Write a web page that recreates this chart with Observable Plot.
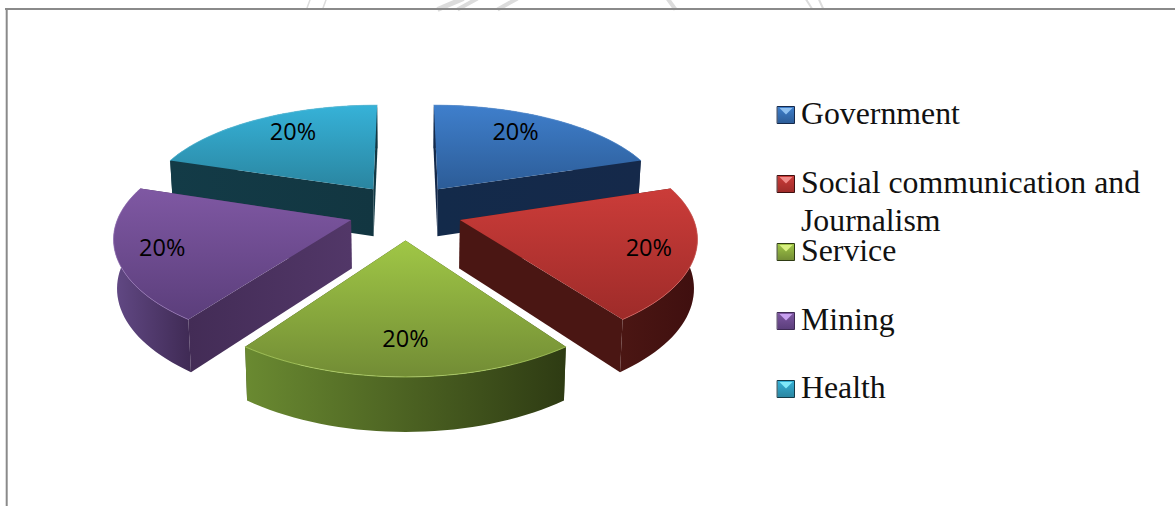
<!DOCTYPE html>
<html>
<head>
<meta charset="utf-8">
<script src="https://cdn.jsdelivr.net/npm/d3@7"></script>
<script src="https://cdn.jsdelivr.net/npm/@observablehq/plot@0.6"></script>
<style>html,body{margin:0;padding:0;background:#fff}svg{display:block}</style>
</head>
<body>
<div id="chart"></div>
<script>
// Data
const categories = ["Government", "Social communication and\nJournalism", "Service", "Mining", "Health"];
const values = [20, 20, 20, 20, 20];

// Styles
const topColors = [["#3f7fcc", "#2c5c97"], ["#cb3c39", "#9e2b29"], ["#a0c746", "#728c35"], ["#7f58a3", "#5b3e7b"], ["#36b2d8", "#2a85a0"]];
const sideColors = [["#15294a", "#15294a"], ["#4b1613", "#3f0f0f"], ["#6a8a31", "#2e3b13"], ["#624985", "#3f2a54"], ["#143a47", "#143a47"]];
const radialColors = [["#132a4a", "#15294a"], ["#4a1613", "#4a1613"], ["#3a4a1a", "#3a4a1a"], ["#432c56", "#523768"], ["#133b47", "#123641"]];
const edgeColors = ["#5c95d8", "#d96561", "#b6d968", "#9878b8", "#62c6e2"];
const markerLight = ["#8fc0f0", "#f08a88", "#d8f080", "#c8a0f0", "#80e8f8"];
const legendLineOffsets = [0, 69, 137, 206, 274];

// Projection constants: an exploded pie seen in perspective
const pie = {cx: 405, cy: 210.7, ax: 231, ay: 104, px: 0.142, py: 0.16, explodeX: 0.245, explodeY: 0.27, depth: 48};
function project(X, Y, bottom) {
  const wy = 1 + pie.py * Y;
  const wx = 1 + pie.px * Y;
  const drop = bottom ? pie.depth / Math.pow(wy, 0.6) : 0;
  const shrink = bottom ? 0.988 : 1;
  return {x: pie.cx + shrink * pie.ax * X / wx, y: pie.cy - pie.ay * Y / wy + drop, Y};
}
const rad = (d) => d * Math.PI / 180;
const total = d3.sum(values);
let running = 0;
const slices = values.map((v, i) => {
  const a0 = running / total * 360;
  running += v;
  const a1 = running / total * 360;
  const mid = (a0 + a1) / 2;
  const ox = pie.explodeX * Math.sin(rad(mid));
  const oy = pie.explodeY * Math.cos(rad(mid));
  const at = (a, r) => [ox + r * Math.sin(rad(a)), oy + r * Math.cos(rad(a))];
  const arc = d3.range(a0, a1 + 0.001, 2).map((a) => at(a, 1));
  const apex = [ox, oy];
  return {i, a0, a1, mid, ox, oy, at, arc, apex};
});
const face = (top, bottom) => [
  ...top.map(([X, Y]) => project(X, Y, false)),
  ...bottom.slice().reverse().map(([X, Y]) => project(X, Y, true))
];

const marks = [];
const gradient = (id, stops, vertical) => `<linearGradient id="${id}" x1="0" y1="0" x2="${vertical ? 0 : 1}" y2="${vertical ? 1 : 0}"><stop offset="0" stop-color="${stops[0]}"/><stop offset="1" stop-color="${stops[1]}"/></linearGradient>`;
const defsHtml = slices.map(({i}) =>
  gradient(`top${i}`, topColors[i], true) + gradient(`side${i}`, sideColors[i], false) + gradient(`rad${i}`, radialColors[i], false)
).join("") + `<filter id="soft" x="-10%" y="-10%" width="120%" height="120%"><feGaussianBlur stdDeviation="1.5"/></filter>`
  + `<filter id="faint" filterUnits="userSpaceOnUse" x="0" y="-10" width="1175" height="40"><feGaussianBlur stdDeviation="1"/></filter>`;

const polygon = (pts, fill, extra = {}) => Plot.line(pts, {x: "x", y: "y", curve: "linear-closed", fill, stroke: "none", ...extra});

// Faint scan watermark showing above the frame
const watermarkFrom = [310, 326, 463, 477, 517, 667, 805, 818];
const watermarkTo = [306, 322, 437, 457, 497, 675, 812, 823];
const watermarkWeight = [1.5, 1.5, 5, 4, 4, 4, 2, 2];
marks.push(Plot.link(d3.range(watermarkFrom.length), {
  x1: (i) => watermarkFrom[i], x2: (i) => watermarkTo[i], y1: () => -2, y2: () => 9,
  stroke: "#dcdcdc", strokeWidth: (i) => watermarkWeight[i], ariaLabel: "watermark"
}));

// Frame
marks.push(Plot.ruleY([8.4], {stroke: "#8a8a8a", strokeWidth: 2, x1: 5, x2: 1175}));
marks.push(Plot.ruleX([6.2], {stroke: "#8a8a8a", strokeWidth: 2, y1: 8, y2: 506}));

// Paint far to near
const order = [0, 4, 1, 3, 2];
for (const i of order) {
  const s = slices[i];
  const r0 = [s.apex, s.arc[0]];
  const r1 = [s.apex, s.arc[s.arc.length - 1]];
  const outerPts = face(s.arc, s.arc);
  const rad0 = face(r0, r0);
  const rad1 = face(r1, r1);
  const faces = [
    {pts: outerPts, fill: `url(#side${i})`},
    {pts: rad0, fill: `url(#rad${i})`},
    {pts: rad1, fill: `url(#rad${i})`}
  ].map((f) => ({...f, depth: d3.mean(f.pts, (d) => d.Y)})).sort((a, b) => b.depth - a.depth);

  // soft shadow under the wedge
  const shade = (pts) => polygon(pts.map((d) => ({x: d.x - (d.x > 405 ? -2 : 2), y: d.y + 2.5})), "#555", {ariaLabel: "shadow", fillOpacity: 0.8});
  marks.push(shade(outerPts), shade(rad0), shade(rad1));

  for (const f of faces) marks.push(polygon(f.pts, f.fill));
  const topPts = [s.apex, ...s.arc].map(([X, Y]) => project(X, Y, false));
  marks.push(polygon(topPts, `url(#top${i})`));
  marks.push(Plot.line(s.arc.map(([X, Y]) => project(X, Y, false)), {x: "x", y: "y", stroke: edgeColors[i], strokeWidth: 1, strokeOpacity: 0.7}));
}

// Percentage labels
const labelAngle = [31, 108, 180, 252, 328];
const labelRadius = [0.76, 0.81, 0.76, 0.81, 0.76];
const labels = slices.map((s) => {
  const [X, Y] = s.at(labelAngle[s.i], labelRadius[s.i]);
  return {...project(X, Y, false), text: `${values[s.i]}%`};
});
marks.push(Plot.text(labels, {x: "x", y: "y", dy: 0.5, text: "text", fill: "#000", fontFamily: "Open Sans", fontSize: 23.5, textAnchor: "middle", lineAnchor: "middle"}));

// Legend
const legendX = 777, legendSize = 17, legendY = 106;
const legend = categories.map((c, i) => ({c, i, y: legendY + legendLineOffsets[i]}));
for (const d of legend) {
  const sq = [{x: legendX, y: d.y}, {x: legendX + legendSize, y: d.y}, {x: legendX + legendSize, y: d.y + legendSize}, {x: legendX, y: d.y + legendSize}];
  marks.push(polygon(sq, `url(#top${d.i})`, {stroke: sideColors[d.i][1], strokeWidth: 1}));
  const tri = [{x: legendX + 2, y: d.y + 1.5}, {x: legendX + legendSize - 2, y: d.y + 1.5}, {x: legendX + legendSize / 2, y: d.y + 8}];
  marks.push(polygon(tri, markerLight[d.i]));
}
marks.push(Plot.text(legend, {
  x: legendX + 23.5, y: (d) => d.y - 9.4, text: "c",
  fill: "#111", fontFamily: "Liberation Serif", fontSize: 31.8,
  textAnchor: "start", lineAnchor: "top", lineHeight: 1.2
}));

const chart = Plot.plot({
  width: 1175, height: 506,
  marginTop: 0, marginRight: 0, marginBottom: 0, marginLeft: 0,
  x: {domain: [0, 1175], range: [0, 1175], axis: null},
  y: {domain: [0, 506], range: [0, 506], axis: null},
  style: {background: "#fff"},
  marks
});
const defs = document.createElementNS("http://www.w3.org/2000/svg", "defs");
defs.innerHTML = defsHtml;
chart.insertBefore(defs, chart.firstChild);
chart.querySelectorAll('g[aria-label="shadow"]').forEach((g) => g.setAttribute("filter", "url(#soft)"));
chart.querySelectorAll('g[aria-label="watermark"]').forEach((g) => g.setAttribute("filter", "url(#faint)"));
document.getElementById("chart").appendChild(chart);
</script>
</body>
</html>
